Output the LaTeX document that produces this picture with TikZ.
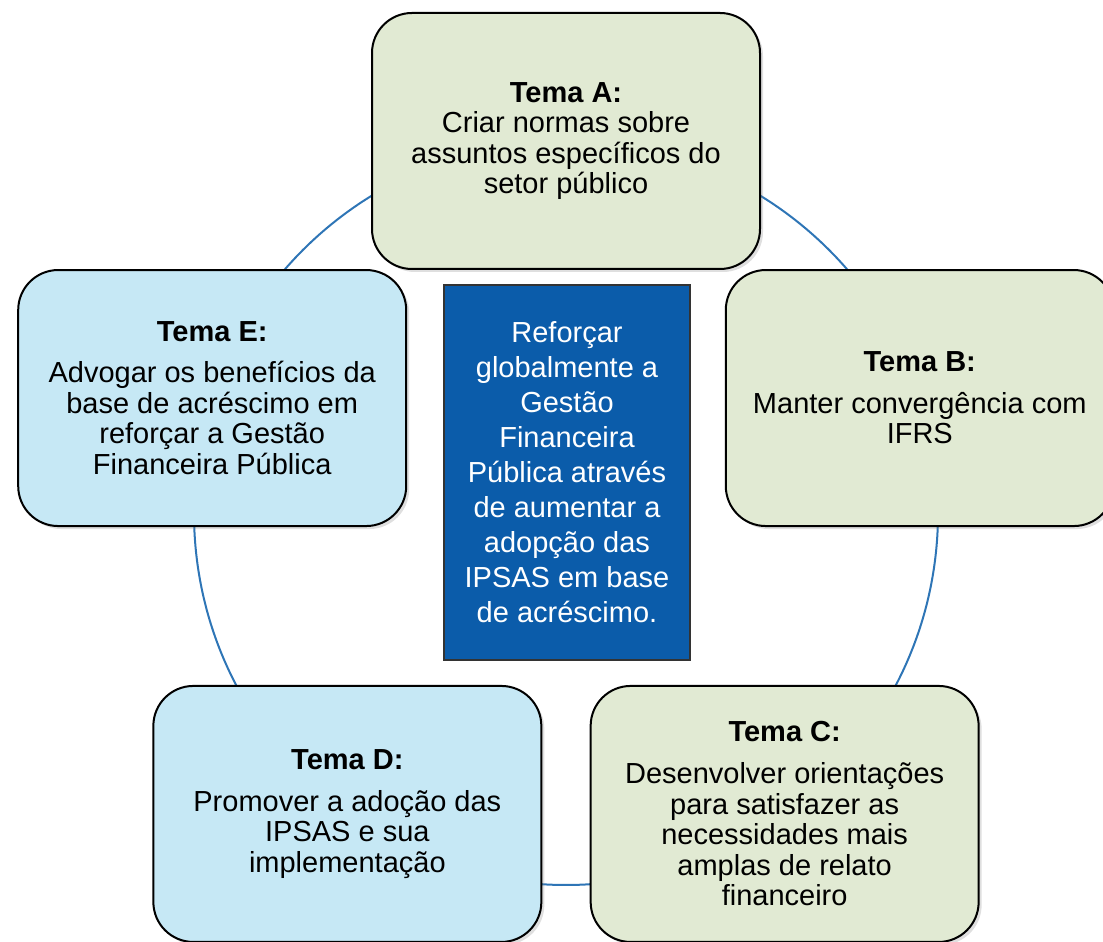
\documentclass[tikz,border=0pt]{standalone}
\usepackage{fontspec}
\setmainfont{Liberation Sans}
\usetikzlibrary{shadows}
\definecolor{temagreen}{HTML}{E1EAD3}
\definecolor{temablue}{HTML}{C6E8F5}
\definecolor{coreblue}{HTML}{0B5CAA}
\definecolor{ringblue}{HTML}{2E75B6}
\tikzset{
  tema/.style={rectangle, rounded corners=20pt, draw=black, line width=1pt,
               align=center, minimum width=194pt, minimum height=128pt, inner sep=2pt,
               font=\fontsize{14.5}{15.3}\selectfont,
               drop shadow={opacity=0.25, shadow xshift=1.5pt, shadow yshift=-1.5pt}},
  temag/.style={tema, fill=temagreen},
  temab/.style={tema, fill=temablue},
  core/.style={rectangle, draw=black!80, line width=0.8pt, fill=coreblue, text=white,
               align=center, minimum width=123pt, minimum height=187.5pt,
               font=\fontsize{14.5}{17.5}\selectfont},
  ring/.style={draw=ringblue, line width=1pt},
}
\begin{document}
\begin{tikzpicture}[x=0.5pt, y=0.5pt]
  \useasboundingbox (0,0) rectangle (1103,942);
  \clip (0,0) rectangle (1103,942);
  \coordinate (o) at (566,429);
  \draw[ring] (o) circle[radius=372];
  \node[temag] (ta) at ([shift={(90:372)}]o)
    {\textbf{Tema A:}\\Criar normas sobre\\assuntos específicos do\\setor público};
  \node[temag] (tb) at ([shift={(18:372)}]o)
    {\textbf{Tema B:}\\[5.5pt]Manter convergência com\\IFRS};
  \node[temag] (tc) at ([shift={(-54:372)}]o)
    {\textbf{Tema C:}\\[5.5pt]Desenvolver orientações\\para satisfazer as\\necessidades mais\\amplas de relato\\financeiro};
  \node[temab] (td) at ([shift={(-126:372)}]o)
    {\textbf{Tema D:}\\[5.5pt]Promover a adoção das\\IPSAS e sua\\implementação};
  \node[temab] (te) at ([shift={(162:372)}]o)
    {\textbf{Tema E:}\\[5.5pt]Advogar os benefícios da\\base de acréscimo em\\reforçar a Gestão\\Financeira Pública};
  \node[core] (alvo) at (567,469.5)
    {Reforçar\\globalmente a\\Gestão\\Financeira\\Pública através\\de aumentar a\\adopção das\\IPSAS em base\\de acréscimo.};
\end{tikzpicture}
\end{document}
